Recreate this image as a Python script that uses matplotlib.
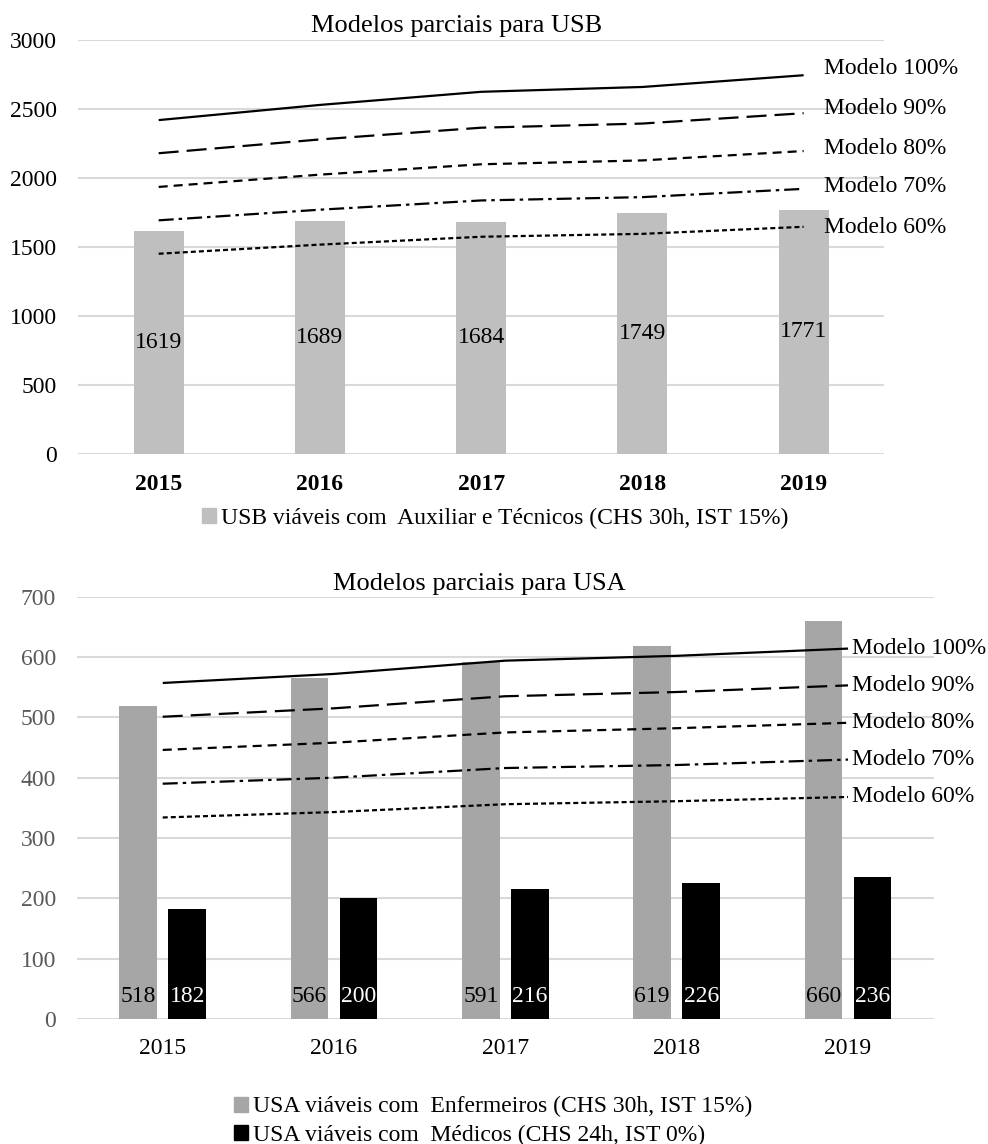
import numpy as np
import matplotlib
matplotlib.use("Agg")
import matplotlib.pyplot as plt
from matplotlib.patches import Patch

plt.rcParams['font.family'] = ['Liberation Serif', 'DejaVu Serif']
plt.rcParams['lines.scale_dashes'] = False

anos = ['2015', '2016', '2017', '2018', '2019']

# USB
usb_viaveis = [1619, 1689, 1684, 1749, 1771]
usb_m100 = [2420, 2530, 2625, 2660, 2745]
usb_m90 = [2180, 2280, 2365, 2395, 2470]
usb_m80 = [1936, 2025, 2100, 2128, 2196]
usb_m70 = [1694, 1771, 1838, 1862, 1922]
usb_m60 = [1452, 1518, 1575, 1596, 1647]

# USA
usa_enf = [518, 566, 591, 619, 660]
usa_med = [182, 200, 216, 226, 236]
usa_m100 = [557, 572, 594, 602, 614]
usa_m90 = [501, 515, 535, 542, 553]
usa_m80 = [446, 458, 475, 482, 491]
usa_m70 = [390, 400, 416, 421, 430]
usa_m60 = [334, 343, 356, 361, 368]

nomes = ['Modelo 100%', 'Modelo 90%', 'Modelo 80%', 'Modelo 70%', 'Modelo 60%']
estilos = [(0, ()), (0, (14.4, 5.8)), (0, (6.5, 4.3)), (0, (10.8, 3.6, 2.5, 3.6)), (0, (3.6, 2.2))]

grid_cor = '#d9d9d9'
fs = 17
fs_titulo = 19

fig = plt.figure(figsize=(9.88, 11.44), dpi=100)
ax1 = fig.add_axes([0.079, 0.603, 0.816, 0.362])
ax2 = fig.add_axes([0.078, 0.1093, 0.867, 0.3691])

x = np.arange(len(anos))


def limpar(ax, ylim, passo, cor_ticks):
    for s in ax.spines.values():
        s.set_visible(False)
    ax.set_ylim(*ylim)
    ax.set_yticks(np.arange(ylim[0], ylim[1] + 1, passo))
    ax.set_xlim(-0.5, len(anos) - 0.5)
    ax.grid(axis='y', color=grid_cor, lw=1.5)
    ax.set_axisbelow(True)
    ax.tick_params(length=0, labelsize=fs)
    ax.tick_params(axis='y', pad=15, labelcolor=cor_ticks)
    ax.tick_params(axis='x', pad=14)


# ---- grafico de cima: USB ----
limpar(ax1, (0, 3000), 500, 'black')
b1 = ax1.bar(x, usb_viaveis, width=0.31, color='#bfbfbf')
ax1.bar_label(b1, labels=[str(v) for v in usb_viaveis], label_type='center', fontsize=fs)
series1 = [usb_m100, usb_m90, usb_m80, usb_m70, usb_m60]
desloc1 = [7, 5, 3, 2, -1]
for serie, nome, ls, dy in zip(series1, nomes, estilos, desloc1):
    ax1.plot(x, serie, color='black', lw=1.6, linestyle=ls)
    ax1.annotate(nome, xy=(x[-1], serie[-1]), xytext=(15, dy * 0.72), textcoords='offset points',
                 va='center', ha='left', fontsize=fs, annotation_clip=False)
ax1.set_xticks(x)
ax1.set_xticklabels(anos, fontweight='bold')
fig.text(457 / 988, 1 - 26 / 1144, 'Modelos parciais para USB', ha='center', va='center', fontsize=fs_titulo)
fig.legend(handles=[Patch(color='#bfbfbf', label='USB viáveis com  Auxiliar e Técnicos (CHS 30h, IST 15%)')],
           loc='center', bbox_to_anchor=(495 / 988, 1 - 518 / 1144), frameon=False, fontsize=fs,
           handlelength=0.6, handleheight=0.6, handletextpad=0.2, borderpad=0)

# ---- grafico de baixo: USA ----
limpar(ax2, (0, 700), 100, '#595959')
dx = 0.143
b2 = ax2.bar(x - dx, usa_enf, width=0.22, color='#a6a6a6')
b3 = ax2.bar(x + dx, usa_med, width=0.22, color='black')
for r, v in zip(b2, usa_enf):
    ax2.text(r.get_x() + r.get_width() / 2, 38, str(v), ha='center', va='center', fontsize=fs, color='black')
for r, v in zip(b3, usa_med):
    ax2.text(r.get_x() + r.get_width() / 2, 38, str(v), ha='center', va='center', fontsize=fs, color='white')
series2 = [usa_m100, usa_m90, usa_m80, usa_m70, usa_m60]
for serie, nome, ls in zip(series2, nomes, estilos):
    ax2.plot(x, serie, color='black', lw=1.6, linestyle=ls)
    ax2.annotate(nome, xy=(x[-1], serie[-1]), xytext=(3, 0), textcoords='offset points',
                 va='center', ha='left', fontsize=fs, annotation_clip=False)
ax2.set_xticks(x)
ax2.set_xticklabels(anos)
fig.text(479 / 988, 1 - 584 / 1144, 'Modelos parciais para USA', ha='center', va='center', fontsize=fs_titulo)
fig.legend(handles=[Patch(color='#a6a6a6', label='USA viáveis com  Enfermeiros (CHS 30h, IST 15%)'),
                    Patch(color='black', label='USA viáveis com  Médicos (CHS 24h, IST 0%)')],
           loc='center left', bbox_to_anchor=(222 / 988, 1 - 1121 / 1144), frameon=False, fontsize=fs,
           handlelength=0.6, handleheight=0.6, handletextpad=0.2, labelspacing=0.3, borderpad=0)

fig.savefig('out.png', dpi=100)
